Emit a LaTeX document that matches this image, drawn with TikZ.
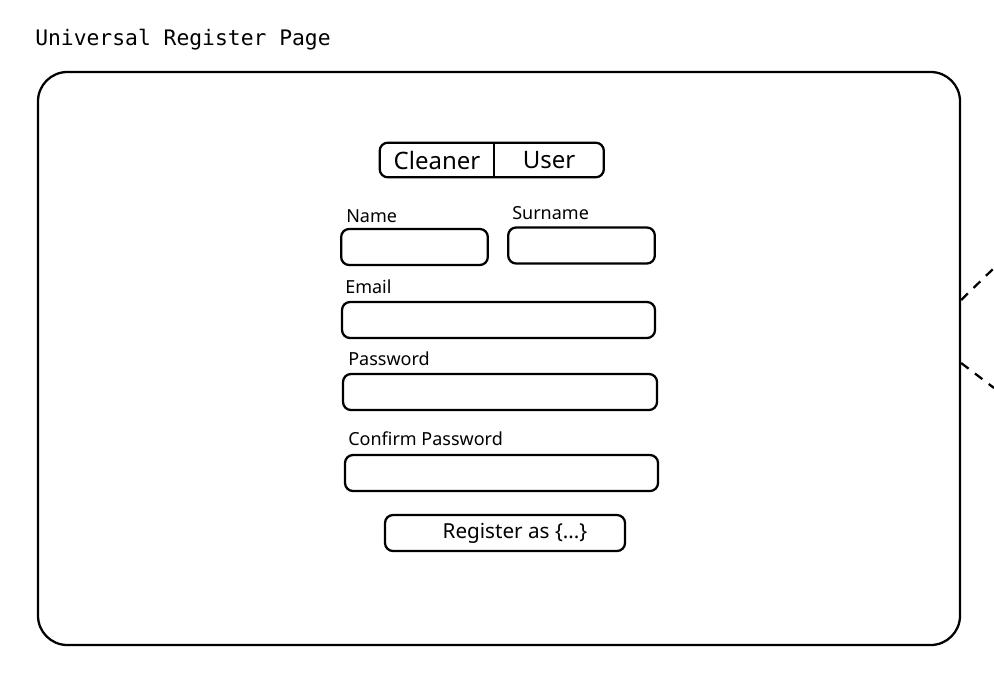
\documentclass[tikz,border=0pt]{standalone}
\usepackage{fontspec}
\setmainfont{Noto Sans}
\setmonofont{DejaVu Sans Mono}
\usetikzlibrary{positioning,calc}
\tikzset{
  sketch/.style={draw, line width=1.7pt, rounded corners=6pt},
  field/.style={sketch, minimum height=27pt, inner sep=0pt},
  fieldlabel/.style={anchor=base west, inner sep=0pt, font=\fontsize{13.5}{15}\selectfont},
  tab/.style={minimum width=#1, minimum height=25.5pt, inner sep=0pt, font=\fontsize{18}{20}\selectfont},
}
\begin{document}
\begin{tikzpicture}[x=0.75pt, y=-0.75pt]
\useasboundingbox (0,0) rectangle (994,675);
% Title
\node[anchor=base west, inner sep=0pt, font=\ttfamily\fontsize{16}{18}\selectfont] (title) at (35,45) {Universal Register Page};

% Page frame
\node[draw, line width=1.7pt, rounded corners=22pt, minimum width=691.5pt, minimum height=429.75pt] (page) at (499,358.5) {};

% Role toggle
\node[tab=85.5pt] (cleaner) at (437,160) {Cleaner};
\node[tab=81.75pt, right=0pt of cleaner] (user) {User};
\draw[sketch] (cleaner.north west) rectangle (user.south east);
\draw[line width=1.4pt] (cleaner.north east) -- (cleaner.south east);

% Fields
\node[field, minimum width=110pt] (name) at (414.5,247) {};
\node[field, minimum width=110pt] (surname) at (581.5,245.5) {};
\node[field, minimum width=234.75pt] (email) at (498.5,320) {};
\node[field, minimum width=235.5pt] (password) at (500,392) {};
\node[field, minimum width=234.75pt] (confirm) at (501.5,473) {};

% Labels
\node[fieldlabel] (namelbl) at (346,222) {Name};
\node[fieldlabel] (surnamelbl) at (512,219) {Surname};
\node[fieldlabel] (emaillbl) at (345,293) {Email};
\node[fieldlabel] (passwordlbl) at (348,365) {Password};
\node[fieldlabel] (confirmlbl) at (348,445) {Confirm Password};

% Submit button
\node[field, minimum width=180pt, font=\fontsize{15.5}{17}\selectfont] (register) at (505,533) {\hspace*{15pt}Register as \{...\}};

% Links leaving the page
\coordinate (out1) at (994,268);
\coordinate (out2) at (994,388);
\draw[line width=1.7pt, dash pattern=on 7pt off 6pt] ($(page.east)+(0,-58.5)$) -- (out1);
\draw[line width=1.7pt, dash pattern=on 7pt off 6pt] ($(page.east)+(0,4.5)$) -- (out2);
\end{tikzpicture}
\end{document}
